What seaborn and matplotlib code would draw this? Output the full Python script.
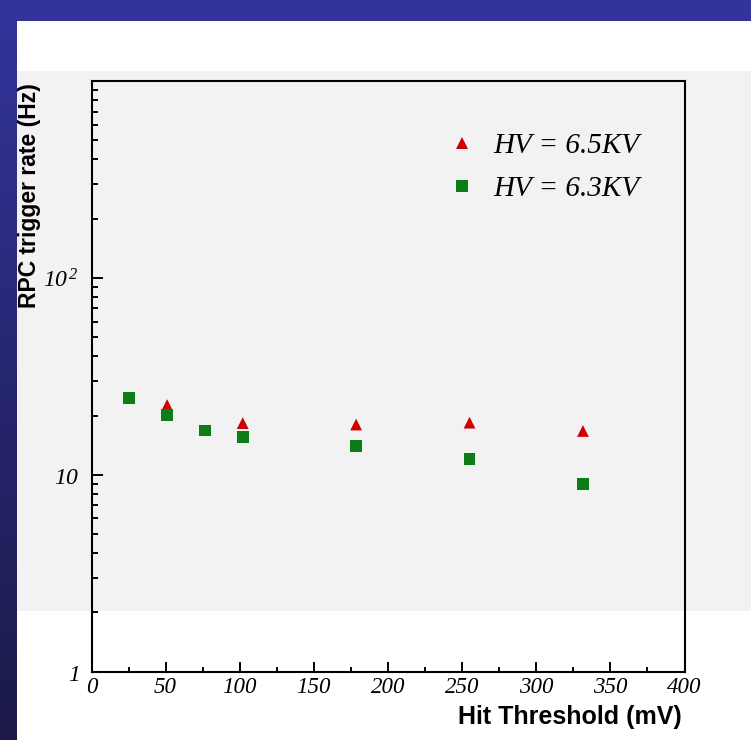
import numpy as np
import pandas as pd
import matplotlib
matplotlib.use("Agg")
import matplotlib.pyplot as plt
import seaborn as sns
from matplotlib.patches import Rectangle
from matplotlib.colors import LinearSegmentedColormap
from matplotlib.ticker import MultipleLocator, LogLocator, NullFormatter

# Trigger rate vs. hit threshold for two high-voltage settings
threshold_65 = [51, 102, 178.5, 255, 331.5]
rate_65 = [22.6, 18.3, 18.0, 18.4, 16.7]
threshold_63 = [25.5, 51, 76.5, 102, 178.5, 255, 331.5]
rate_63 = [24.5, 20.1, 16.8, 15.5, 14.0, 12.0, 8.97]
series_labels = ["HV = 6.5KV", "HV = 6.3KV"]

x_ticks = [0, 50, 100, 150, 200, 250, 300, 350, 400]
y_ticks = [1, 10, 100]
y_tick_labels = [r"$1$", r"$10$", r"$10^{\,2}$"]

# italic serif digits for the exponent-style tick labels
plt.rcParams["mathtext.fontset"] = "custom"
plt.rcParams["mathtext.rm"] = "Liberation Serif:italic"
plt.rcParams["mathtext.it"] = "Liberation Serif:italic"
plt.rcParams["mathtext.default"] = "rm"

df = pd.concat([
    pd.DataFrame({"threshold": threshold_65, "rate": rate_65, "series": series_labels[0]}),
    pd.DataFrame({"threshold": threshold_63, "rate": rate_63, "series": series_labels[1]}),
], ignore_index=True)

W, H = 751, 740
fig = plt.figure(figsize=(W / 100, H / 100), dpi=100)
fig.patch.set_facecolor("white")

# slide frame: blue top band, gradient left band, grey panel
fig.add_artist(Rectangle((0, 1 - 21 / H), 1, 21 / H, transform=fig.transFigure,
                         facecolor="#333399", edgecolor="none", zorder=-2))
fig.add_artist(Rectangle((17 / W, 1 - 611 / H), 1 - 17 / W, (611 - 71) / H,
                         transform=fig.transFigure, facecolor="#f2f2f2",
                         edgecolor="none", zorder=-2))
bax = fig.add_axes([0, 0, 17 / W, 1 - 21 / H])
grad = np.linspace(0, 1, 256).reshape(-1, 1)
bax.imshow(grad, aspect="auto",
           cmap=LinearSegmentedColormap.from_list("band", ["#333399", "#1b1a48"]))
bax.axis("off")

ax = fig.add_axes([91.5 / W, 1 - 671.7 / H, 593 / W, 590.7 / H])
ax.patch.set_alpha(0)

sns.scatterplot(data=df, x="threshold", y="rate", hue="series", style="series",
                palette={series_labels[0]: "#d00000", series_labels[1]: "#0a7d16"},
                markers={series_labels[0]: "^", series_labels[1]: "s"},
                s=72, linewidth=0, ax=ax)

ax.set_yscale("log")
ax.set_xlim(0, 400)
ax.set_ylim(1, 1000)
ax.set_xticks(x_ticks)
ax.set_xticklabels([str(v) for v in x_ticks])
ax.xaxis.set_minor_locator(MultipleLocator(25))
ax.set_yticks(y_ticks)
ax.set_yticklabels(y_tick_labels)
ax.yaxis.set_minor_locator(LogLocator(base=10, subs=np.arange(2, 10)))
ax.yaxis.set_minor_formatter(NullFormatter())

for sp in ax.spines.values():
    sp.set_linewidth(1.5)
    sp.set_color("black")

ax.tick_params(which="both", direction="in", top=False, right=False, width=1.4, color="black")
ax.tick_params(axis="x", which="major", length=7, pad=4)
ax.tick_params(axis="x", which="minor", length=3.5)
ax.tick_params(axis="y", which="major", length=8, pad=9)
ax.tick_params(axis="y", which="minor", length=4.5)
for lab in ax.get_xticklabels():
    lab.set_fontfamily("Liberation Serif")
    lab.set_fontstyle("italic")
    lab.set_fontsize(16.5)
for lab in ax.get_yticklabels():
    lab.set_fontsize(17)

ax.set_xlabel("")
ax.set_ylabel("")
fig.text(682 / W, 1 - 717 / H, "Hit Threshold (mV)", ha="right", va="center",
         fontsize=18, fontweight="bold", family=["Liberation Sans Narrow", "Liberation Sans"])
fig.text(29.5 / W, 1 - 83 / H, "RPC trigger rate (Hz)", ha="center", va="top", rotation=90,
         fontsize=16.5, fontweight="bold", family=["Liberation Sans Narrow", "Liberation Sans"])

handles, labels = ax.get_legend_handles_labels()
ax.get_legend().remove()
ax.legend(handles, labels, loc="upper left", bbox_to_anchor=(0.605, 0.912),
          frameon=False, borderpad=0, borderaxespad=0, handlelength=0.8,
          handletextpad=0.69, labelspacing=0.57,
          prop={"family": "Liberation Serif", "style": "italic", "size": 21})

fig.savefig("out.png", dpi=100)
